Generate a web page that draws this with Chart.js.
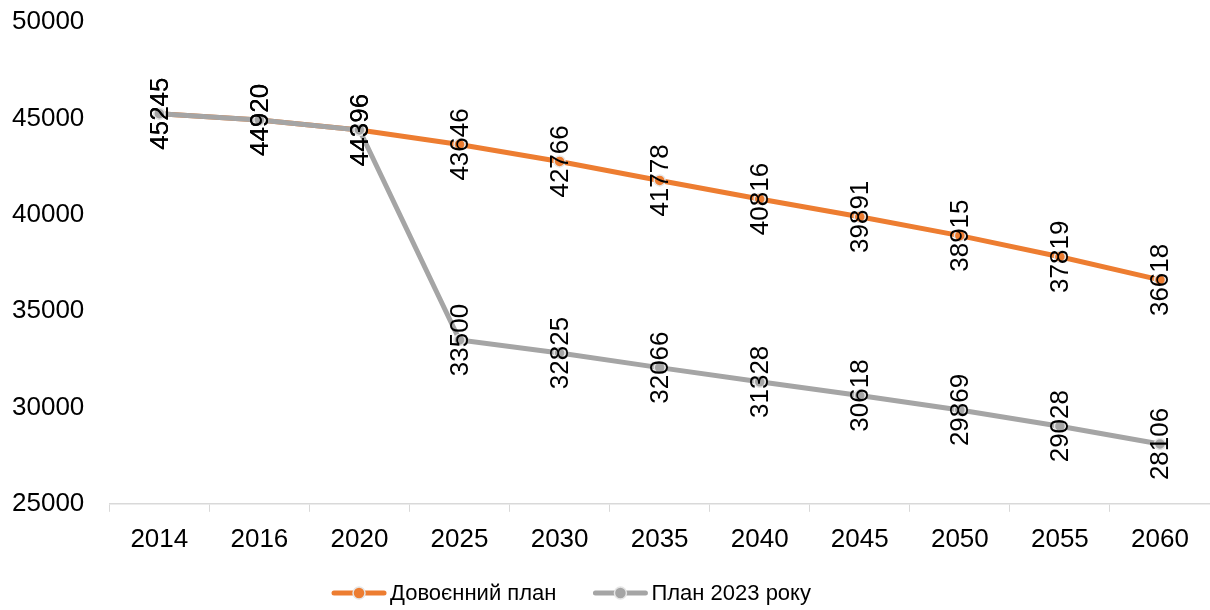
<!DOCTYPE html>
<html>
<head>
<meta charset="utf-8">
<script src="https://cdn.jsdelivr.net/npm/chart.js@4"></script>
<style>
  html, body { margin: 0; padding: 0; background: #fff; overflow: hidden; }
  #wrap { width: 1210px; height: 610px; position: relative; }
</style>
</head>
<body>
<div id="wrap"><canvas id="chart"></canvas></div>
<script>
const years = ["2014", "2016", "2020", "2025", "2030", "2035", "2040", "2045", "2050", "2055", "2060"];
const prewarPlan = [45245, 44920, 44396, 43646, 42766, 41778, 40816, 39891, 38915, 37819, 36618];
const plan2023 = [45245, 44920, 44396, 33500, 32825, 32066, 31328, 30618, 29869, 29028, 28106];
const seriesNames = ["Довоєнний план", "План 2023 року"];

const orange = "#ED7D31",
  grey = "#A5A5A5",
  axisGray = "#D9D9D9",
  dotRing = "#E6E6E6",
  font = "'Liberation Sans', Arial, sans-serif";

// vertical value labels centred on each point
const valueLabels = {
  id: "valueLabels",
  afterDatasetsDraw(chart) {
    const ctx = chart.ctx;
    ctx.save();
    ctx.font = "26px " + font;
    ctx.fillStyle = "#000";
    ctx.textAlign = "center";
    ctx.textBaseline = "middle";
    chart.data.datasets.forEach((ds, i) => {
      const meta = chart.getDatasetMeta(i);
      meta.data.forEach((pt, j) => {
        ctx.save();
        ctx.translate(pt.x, pt.y);
        ctx.rotate(-Math.PI / 2);
        ctx.fillText(String(ds.data[j]), 0, 1);
        ctx.restore();
      });
    });
    ctx.restore();
  },
};

// legend at the bottom: line + dot marker, then the series name
const bottomLegend = {
  id: "bottomLegend",
  afterDraw(chart) {
    const ctx = chart.ctx;
    const markW = 56, gapText = 3, gapItem = 36;
    ctx.save();
    ctx.font = "22px " + font;
    const items = chart.data.datasets.map(ds => ({
      text: ds.label,
      color: ds.borderColor,
      w: markW + gapText + ctx.measureText(ds.label).width,
    }));
    const total = items.reduce((s, it) => s + it.w, 0) + gapItem * (items.length - 1);
    let x = 571 - total / 2;
    const y = chart.height - 17;
    items.forEach(it => {
      ctx.strokeStyle = it.color;
      ctx.lineWidth = 5;
      ctx.lineCap = "round";
      ctx.beginPath();
      ctx.moveTo(x + 3, y);
      ctx.lineTo(x + markW - 3, y);
      ctx.stroke();
      ctx.beginPath();
      ctx.arc(x + markW / 2, y, 6, 0, Math.PI * 2);
      ctx.fillStyle = it.color;
      ctx.fill();
      ctx.lineWidth = 1.5;
      ctx.strokeStyle = dotRing;
      ctx.stroke();
      ctx.fillStyle = "#000";
      ctx.textAlign = "left";
      ctx.textBaseline = "middle";
      ctx.fillText(it.text, x + markW + gapText, y + 1);
      x += it.w + gapItem;
    });
    ctx.restore();
  },
};

new Chart(document.getElementById("chart"), {
  type: "line",
  data: {
    labels: years,
    datasets: [
      {
        label: seriesNames[0],
        data: prewarPlan,
        borderColor: orange,
        backgroundColor: orange,
        borderWidth: 5,
        pointRadius: 5.5,
        pointBackgroundColor: orange,
        pointBorderColor: dotRing,
        pointBorderWidth: 1.5,
        tension: 0,
        order: 1,
      },
      {
        label: seriesNames[1],
        data: plan2023,
        borderColor: grey,
        backgroundColor: grey,
        borderWidth: 5,
        pointRadius: 5.5,
        pointBackgroundColor: grey,
        pointBorderColor: dotRing,
        pointBorderWidth: 1.5,
        tension: 0,
        order: 0,
      },
    ],
  },
  options: {
    responsive: true,
    maintainAspectRatio: false,
    animation: false,
    layout: { autoPadding: false, padding: { left: -13, right: 0, top: 22, bottom: 43 } },
    plugins: {
      tooltip: { enabled: false },
      legend: { display: false },
    },
    scales: {
      x: {
        offset: true,
        grid: {
          offset: true,
          drawOnChartArea: false,
          color: axisGray,
          tickLength: 8,
        },
        border: { display: true, color: axisGray, width: 1.5 },
        ticks: { color: "#000", font: { family: font, size: 26 }, padding: 12, maxRotation: 0 },
        afterFit(scale) {
          scale.paddingLeft = 0;
          scale.paddingRight = 0;
        },
      },
      y: {
        min: 25000,
        max: 50000,
        grid: { display: false, drawTicks: false },
        border: { display: false },
        ticks: {
          stepSize: 5000,
          color: "#000",
          font: { family: font, size: 26 },
          padding: 25,
          callback: v => String(v),
        },
        afterFit(scale) {
          scale.paddingTop = 0;
          scale.paddingBottom = 0;
        },
      },
    },
  },
  plugins: [valueLabels, bottomLegend],
});
</script>
</body>
</html>
